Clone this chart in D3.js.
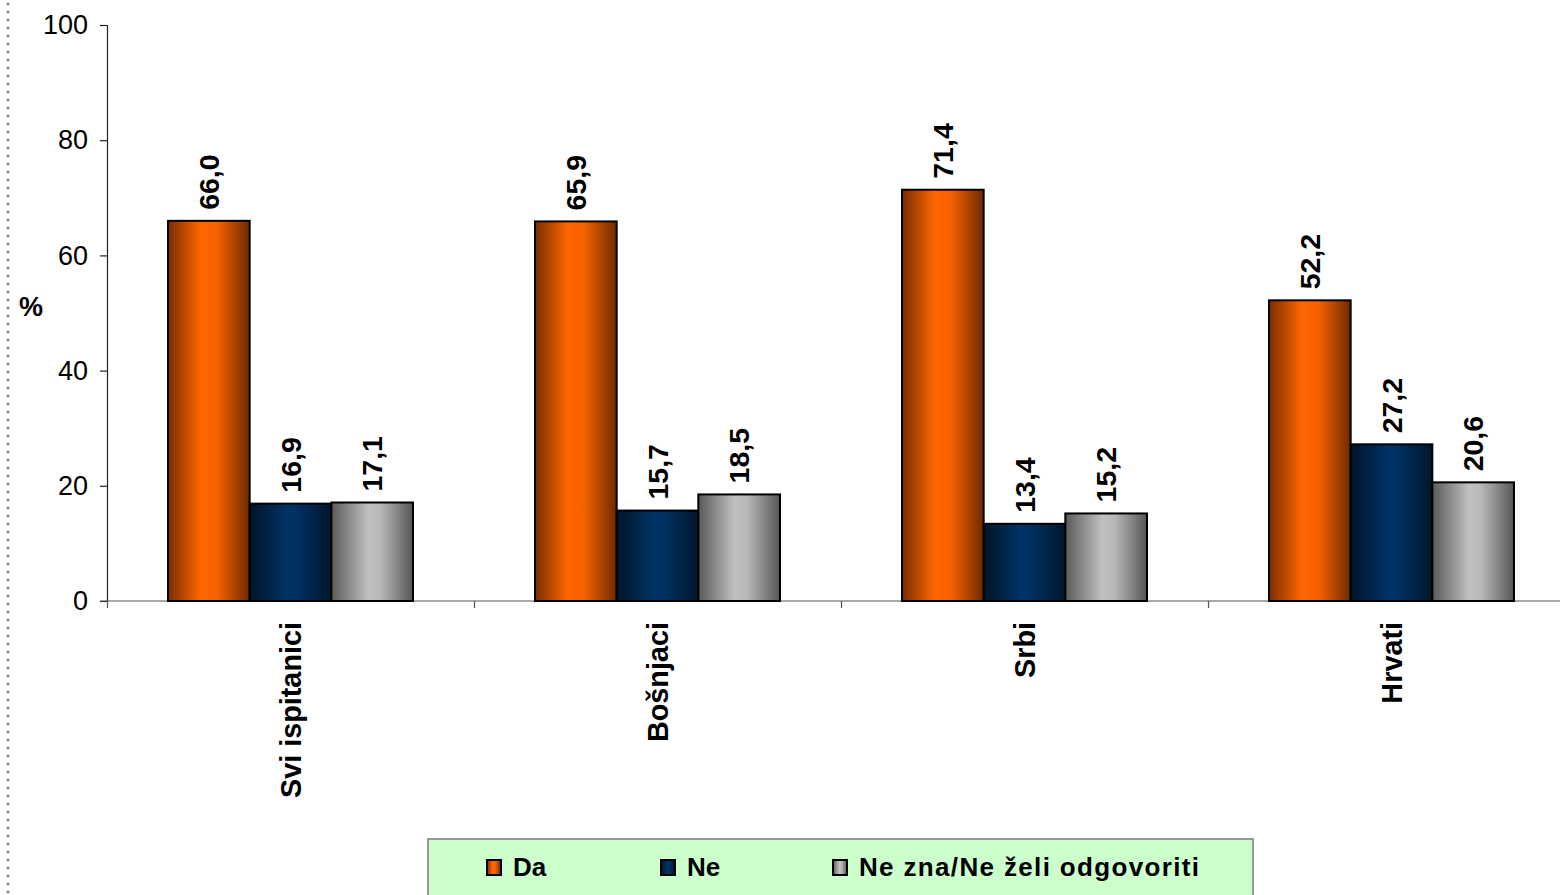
<!DOCTYPE html>
<html>
<head>
<meta charset="utf-8">
<script src="https://cdn.jsdelivr.net/npm/d3@7"></script>
<style>
  html, body { margin: 0; padding: 0; background: #fff; }
  svg { display: block; }
  text { font-family: "Liberation Sans", Arial, sans-serif; }
</style>
</head>
<body>
<svg id="chart" width="1560" height="895"></svg>
<script>
const categories = ["Svi ispitanici", "Bošnjaci", "Srbi", "Hrvati"];
const seriesNames = ["Da", "Ne", "Ne zna/Ne želi odgovoriti"];
const daValues = [66.0, 65.9, 71.4, 52.2];
const neValues = [16.9, 15.7, 13.4, 27.2];
const neznaValues = [17.1, 18.5, 15.2, 20.6];
const yTicks = [0, 20, 40, 60, 80, 100];
const yLabel = "%";

const seriesValues = [daValues, neValues, neznaValues];
const gradients = [
  { id: "gOrange", stops: [["0%", "#7a2e00"], ["40%", "#ff6600"], ["60%", "#f56200"], ["100%", "#6e2a00"]] },
  { id: "gNavy",   stops: [["0%", "#001426"], ["45%", "#003366"], ["60%", "#00305f"], ["100%", "#00162b"]] },
  { id: "gGray",   stops: [["0%", "#5a5a5a"], ["45%", "#c0c0c0"], ["60%", "#b8b8b8"], ["100%", "#565656"]] }
];

const svg = d3.select("#chart");
const defs = svg.append("defs");
gradients.forEach(g => {
  const lg = defs.append("linearGradient").attr("id", g.id)
    .attr("x1", "0%").attr("x2", "100%").attr("y1", "0%").attr("y2", "0%");
  g.stops.forEach(s => lg.append("stop").attr("offset", s[0]).attr("stop-color", s[1]));
});

// left dotted border
svg.append("g").selectAll("circle").data(d3.range(4, 895, 8)).join("circle")
  .attr("cx", 8).attr("cy", d => d).attr("r", 1.5).attr("fill", "#8c8c8c");

const x0 = d3.scaleBand().domain(categories).range([107, 1575]).paddingInner(0).paddingOuter(0);
const x1 = d3.scaleBand().domain(seriesNames).range([61, 306]).padding(0);
const y = d3.scaleLinear().domain([0, 100]).range([601, 25]);

// y axis
const yAxis = d3.axisLeft(y).tickValues(yTicks).tickSize(7).tickPadding(12).tickFormat(d3.format("d"));
const yg = svg.append("g").attr("transform", "translate(107,0)").call(yAxis);
yg.select(".domain").attr("stroke", "#222").attr("stroke-width", 1.2);
yg.selectAll(".tick line").attr("stroke", "#222").attr("stroke-width", 1.2);
yg.selectAll(".tick text").attr("font-size", 27).attr("fill", "#000")
  .attr("font-family", "'Liberation Sans', Arial, sans-serif");

// y label
svg.append("text").attr("x", 31).attr("y", 307).attr("text-anchor", "middle")
  .attr("dominant-baseline", "central").attr("font-size", 27).attr("font-weight", "bold")
  .text(yLabel);

// x axis line
svg.append("line").attr("x1", 100).attr("x2", 1560).attr("y1", y(0)).attr("y2", y(0))
  .attr("stroke", "#555").attr("stroke-width", 1.2);
// category ticks at boundaries
categories.forEach(c => {
  const bx = Math.round(x0(c)) + 0.5;
  svg.append("line").attr("x1", bx).attr("x2", bx).attr("y1", y(0)).attr("y2", y(0) + 7)
    .attr("stroke", "#555").attr("stroke-width", 1.2);
});

// bars
const groups = svg.append("g").selectAll("g").data(categories).join("g")
  .attr("transform", d => `translate(${x0(d)},0)`);

groups.each(function(cat, ci) {
  const g = d3.select(this);
  seriesNames.forEach((s, si) => {
    const v = seriesValues[si][ci];
    const bx = x1(s), bw = x1.bandwidth();
    g.append("rect").attr("x", bx).attr("y", y(v)).attr("width", bw).attr("height", y(0) - y(v))
      .attr("fill", `url(#${gradients[si].id})`).attr("stroke", "#000").attr("stroke-width", 2);
    g.append("text")
      .attr("transform", `translate(${bx + bw / 2},${y(v) - 11}) rotate(-90)`)
      .attr("text-anchor", "start").attr("dominant-baseline", "central")
      .attr("font-size", 28.5).attr("font-weight", "bold").attr("fill", "#000")
      .text(v.toFixed(1).replace(".", ","));
  });
  g.append("text")
    .attr("transform", `translate(${x0.bandwidth() / 2},${y(0) + 21}) rotate(-90)`)
    .attr("text-anchor", "end").attr("dominant-baseline", "central")
    .attr("font-size", 28.8).attr("font-weight", "bold").attr("fill", "#000")
    .text(cat);
});

// legend
const lg = svg.append("g");
lg.append("rect").attr("x", 428).attr("y", 839).attr("width", 825).attr("height", 70)
  .attr("fill", "#ccffcc").attr("stroke", "#7a7a7a").attr("stroke-width", 1.5);
const legendX = [487, 661, 833];
const legendW = [null, null, 340];
seriesNames.forEach((s, i) => {
  lg.append("rect").attr("x", legendX[i]).attr("y", 860).attr("width", 14).attr("height", 15)
    .attr("fill", `url(#${gradients[i].id})`).attr("stroke", "#000").attr("stroke-width", 2);
  const t = lg.append("text").attr("x", legendX[i] + 26).attr("y", 876)
    .attr("font-size", 26).attr("font-weight", "bold").attr("fill", "#000").text(s);
  if (legendW[i]) t.attr("textLength", legendW[i]).attr("lengthAdjust", "spacing");
});
</script>
</body>
</html>
